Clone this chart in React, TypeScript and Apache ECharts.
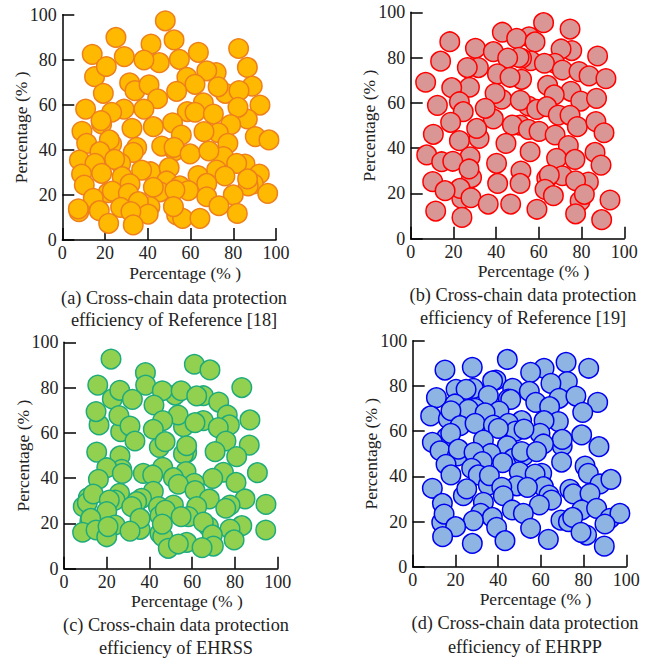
import React, { useEffect, useRef } from "react";
import * as echarts from "echarts";

const pointsA = [
[48.2,97.3],[25.1,89.9],[52.3,88.8],[41.5,87],[14,82.4],[29,81.4],[63.7,83.3],[82.5,85],[45.4,78.7],[38.2,79.9],[54.8,80.2],[15.1,72.5],[20.6,77],[86.6,76.6],[58.3,72.2],[72,74.3],[67.6,75.1],[31.5,69.8],[34,66.3],[40.6,68.9],[62.1,69.1],[76.3,65.1],[72.9,68],[88.9,68.3],[82.7,66.3],[44.6,62.7],[53.5,66],[19.2,65.1],[92.5,59.9],[66,60.9],[58.5,57],[62.1,56.7],[10.9,58.1],[28.9,58.1],[23.1,56.7],[38.2,58.1],[70.7,55.9],[86.6,53.7],[82.2,58.9],[18.4,51.5],[18.1,53],[51.6,52],[78.8,51.2],[42.6,50.3],[32.6,49.6],[9.2,48.2],[73,47.6],[66.3,48.1],[55.7,46.6],[90.3,45.9],[96.7,44.4],[11.4,42.9],[23.1,42.6],[22,44.4],[77.5,42.9],[46.5,41.7],[34.8,41.1],[52.7,39.6],[52.3,41.1],[33.2,38.9],[59.8,38.2],[75.4,37],[68.6,39.5],[17.6,39.2],[27.3,34],[8,35.5],[15.3,34],[24.5,35.8],[41.3,30.3],[37.1,31],[50,32.1],[85.5,33.7],[81.6,34],[72.2,31],[18.4,29.6],[9,29.3],[28,28.1],[63.5,28.6],[76.1,28.4],[92.2,29.3],[48.8,26.2],[31.7,24.9],[67.6,25.1],[89.4,24.9],[87,24],[86.7,27.1],[10.3,24.4],[55,24],[45.7,21.4],[42.6,23.4],[21.5,21],[23.4,21.7],[59,21.9],[52.7,22.2],[96.1,20.7],[67.6,19.2],[80,20],[30.9,20.7],[14.5,18.5],[41,14.8],[35.6,17],[73.3,15.2],[17.3,13],[27.3,14.5],[53.5,11.1],[56.3,9.6],[52,14.8],[40.2,11.5],[32.1,12.6],[64.4,9.6],[81.9,11.8],[7.8,12.6],[7.5,13.8],[33.2,6.7],[21.7,7.4],
];

const pointsB = [
[62.2,95.4],[74.6,92.6],[42.9,91.2],[55.4,89.2],[49.6,88.5],[58.2,86.9],[18.3,87],[30.3,84.1],[38.7,82.6],[75.4,83.1],[70.4,83.8],[87.5,80.7],[14,78.4],[56.2,78.6],[51.9,79.7],[50.7,80.1],[45.4,79.8],[67.5,77.5],[62.6,77.5],[71,74.5],[31.7,75.6],[26.5,75.6],[78.8,73.8],[83.5,71.9],[91.4,70.7],[40.6,72.8],[51.9,70.4],[46.5,71.3],[7,69.1],[64.1,67.7],[27.5,66.9],[19.2,66.7],[75,65.1],[67.2,63.5],[42.6,61.6],[39.5,64.2],[55.1,58.6],[51.3,61.1],[79.6,60.8],[87,62],[22.8,60.5],[12.5,58.9],[59,57.1],[63.7,58.3],[38.7,52.9],[34.9,57.6],[24.6,56.1],[69.1,54.6],[74.6,54.5],[18.7,51.4],[51.2,50.2],[47.6,50.2],[78,49.5],[86.7,51.7],[55.1,48.3],[60.1,47.4],[90.5,46.8],[10.6,46.1],[32,44.3],[30.9,48.7],[67.6,45.8],[22.8,43.3],[44.6,42.1],[73.8,41.1],[27.8,36.2],[55.9,38.4],[7.5,37],[86.3,38.1],[14.5,34],[19.7,34.2],[68.3,35.5],[76.9,35],[40.2,33.3],[89.1,32.5],[28.5,27],[27.3,30.8],[51.6,29.9],[71,27.8],[63.7,26.7],[64.9,28.1],[83.2,25],[10.3,25.2],[62.9,21.8],[40.7,24.4],[51.2,24.4],[23.9,17.8],[23.1,22.2],[16.1,21.2],[28.2,18.1],[66.8,19],[79.3,16.6],[77.2,25.6],[81.3,19.6],[93.3,17.1],[36.3,15.3],[46.8,15.3],[59.1,13],[11.7,12.2],[77.2,11],[24,9.4],[89.4,8.4],
];

const pointsC = [
[22,92.6],[61,90.3],[68.3,87.8],[38.1,86.6],[15.8,81.1],[38.2,81.1],[83.2,80],[22.6,75],[26.1,78.8],[32,74.8],[52,76.7],[46,78.6],[54.8,78.6],[65.2,76.4],[62.1,76.3],[72.4,73.6],[42.1,72.3],[16.4,63.5],[15,69.4],[76.4,67.9],[77.4,63.5],[55.9,62.7],[53.4,67.9],[26.5,60.5],[25.7,67.6],[87,65.7],[46.2,65.4],[65.2,65.4],[61.3,64.5],[30.9,63],[72.2,62.3],[41.8,61.6],[33.2,56.4],[75.8,56.4],[44.6,53.6],[47.3,56.1],[86.7,54.6],[70.7,51.7],[57.4,51.3],[55.9,50.7],[57.4,54.3],[15.3,51.5],[26.2,49.8],[80.8,49.5],[27,43.9],[20,44.6],[46.2,44.8],[90.5,42.4],[37.1,42.1],[41.5,41.4],[27.3,42.1],[57.1,42.9],[74.6,42.6],[16.1,39.5],[51.2,40.2],[69.6,39.9],[61,37.7],[80.5,38.1],[53.5,37.3],[41.8,34.2],[61.3,34.5],[26,33.3],[23.9,30.3],[9,27.4],[11.4,31.4],[10.9,29.2],[13.7,33],[36.3,31.1],[34,29.6],[21.2,30.3],[68,30.8],[84.7,30.8],[44.2,27.4],[31.7,27.4],[51.2,28.1],[62.1,27.4],[77.7,28.1],[75.7,26.7],[94.5,28.4],[20,25.2],[44.9,23.4],[47.4,25.9],[58.2,23],[54.8,23],[35.6,17.4],[35.6,22.2],[12.1,21],[12.5,22.2],[23.9,19.3],[67.6,18.6],[65.2,20.6],[83.2,19],[77.7,17.5],[8.7,16.1],[15,17.1],[20,14.1],[20.6,18.6],[30.9,16.6],[44.9,15.6],[46.2,14.1],[46,19.7],[69.4,14.9],[94.4,17.1],[79.6,12.7],[48.8,9],[57.4,11.6],[53.5,10.9],[69.9,10],[64.6,9.3],
];

const pointsD = [
[44.3,91.7],[71.8,90.4],[27.9,88.2],[15.1,87],[61.5,87.8],[82.4,87.8],[55.2,86],[39,82.6],[37.4,82.2],[72.4,81.9],[64.7,81.1],[28.4,78.9],[20.3,78.5],[25,78.5],[46.8,78.9],[54.6,77.6],[35.4,75.7],[11.1,74.8],[68.5,74.5],[76.4,75.5],[44.8,74.2],[45.9,74],[86.6,72.7],[57.6,72.7],[19.8,72],[29.2,70.1],[26.1,69.6],[40.4,68.9],[33.9,68.1],[64.1,70.8],[79.6,68.3],[8.4,66.7],[16.7,65.3],[17.9,69],[22.2,62.4],[68.2,64.2],[29.2,63.4],[51,64.6],[61.5,64.6],[37.8,62.7],[44.8,63.4],[48.2,60],[59.6,59],[40.1,61.2],[52.1,60.9],[79.1,58.3],[15.9,57.2],[17.8,59],[33.1,56],[9.2,55],[70,53.4],[70,56.3],[61.2,54.3],[87.2,53.1],[44.3,53.5],[12.8,51.3],[20.9,49],[21.4,52],[47.1,47.9],[51.8,49],[51,50.9],[58,50.9],[36.5,50.1],[28.7,50.6],[42.1,46],[32.6,46.5],[69.7,46.3],[15.6,45.3],[27.6,43.5],[80.7,44.5],[82.2,41.3],[17.9,40.6],[49.9,42],[60.4,41.3],[57.3,41],[30.7,40.6],[35.4,36.1],[35.9,40.3],[61.2,35.4],[48.7,35.8],[41.7,35.1],[53.7,35.1],[23.7,31.4],[25.3,34.4],[9.2,34.7],[87.7,36.6],[92.8,38.6],[73.6,34.2],[75.2,32.2],[83,32.4],[42.4,31.4],[63.8,31.7],[65,29.5],[33.1,28.5],[59.3,27.3],[13.9,28],[79.1,25.1],[86.1,25.8],[46.6,25.1],[51.8,23.6],[31.8,23.6],[13.6,19.6],[14.7,23.3],[92.4,21.4],[97,23.6],[37.3,21.8],[28.4,20.4],[69.4,20.6],[72.9,19.9],[74.9,21.8],[90,18.9],[20.1,17.7],[39.3,17.4],[55.2,17],[81.4,14],[78.8,15.2],[14,13.3],[43.2,11.5],[63.5,12.1],[27.9,10.3],[89.7,9.1],
];

const tickValues = [0, 20, 40, 60, 80, 100];
const axisTitle = "Percentage (% )";
const FONT = "'Liberation Serif', 'Times New Roman', serif";

const panels = [
  { data: pointsA, fill: "#FFB900", stroke: "#EE7F1B", left: 62.3, top: 14.7, right: 276, bottom: 240, nameShift: 32, cap: ["(a) Cross-chain data protection", "efficiency of Reference [18]"], capX: 174, capY: [298, 320] },
  { data: pointsB, fill: "#D99694", stroke: "#FF0000", left: 410.7, top: 12.3, right: 624.3, bottom: 238.7, nameShift: 32, cap: ["(b) Cross-chain data protection", "efficiency of Reference [19]"], capX: 523, capY: [295, 318] },
  { data: pointsC, fill: "#92D050", stroke: "#1EAB7C", left: 64, top: 342.3, right: 277.7, bottom: 568.7, nameShift: 32, cap: ["(c) Cross-chain data protection", "efficiency of EHRSS"], capX: 176, capY: [625, 648] },
  { data: pointsD, fill: "#8DB4E2", stroke: "#0000F0", left: 412.7, top: 340.7, right: 626.3, bottom: 566.7, nameShift: 32, cap: ["(d) Cross-chain data protection", "efficiency of EHRPP"], capX: 525, capY: [623, 647] },
];

export default function App() {
  const ref = useRef<HTMLDivElement>(null);
  useEffect(() => {
    const chart = echarts.init(ref.current!, null, { renderer: "svg" });
    const axisBase = {
      type: "value",
      min: 0,
      max: 100,
      interval: 20,
      splitLine: { show: false },
      axisLine: { show: true, onZero: false, lineStyle: { color: "#000", width: 1.5 } },
      axisTick: { show: true, inside: true, length: 12, lineStyle: { color: "#000", width: 1.5 } },
      axisLabel: {
        color: "#222",
        fontFamily: FONT,
        fontSize: 18,
        lineHeight: 15,
        margin: 5.5,
        hideOverlap: false,
        showMinLabel: true,
        showMaxLabel: true,
        customValues: tickValues,
      },
      nameLocation: "middle",
      nameMoveOverlap: false,
      nameTextStyle: { color: "#222", fontFamily: FONT, fontSize: 17.5, lineHeight: 15 },
    };
    chart.setOption({
      animation: false,
      backgroundColor: "#fff",
      grid: panels.map((p) => ({
        left: p.left,
        top: p.top,
        width: p.right - p.left,
        height: p.bottom - p.top,
        containLabel: false,
      })),
      xAxis: panels.map((p, i) => ({
        ...axisBase,
        gridIndex: i,
        name: axisTitle,
        nameGap: 25,
        nameTextStyle: { ...axisBase.nameTextStyle, padding: [0, 0, 0, p.nameShift] },
      })),
      yAxis: panels.map((p, i) => ({
        ...axisBase,
        gridIndex: i,
        name: axisTitle,
        nameGap: 34,
      })),
      series: panels.map((p, i) => ({
        type: "scatter",
        xAxisIndex: i,
        yAxisIndex: i,
        data: p.data,
        symbol: "circle",
        symbolSize: 19.5,
        clip: false,
        itemStyle: { color: p.fill, borderColor: p.stroke, borderWidth: 1.5, opacity: 1 },
        emphasis: { disabled: true },
      })),
      graphic: panels.flatMap((p) =>
        p.cap.map((text, j) => ({
          type: "text",
          x: p.capX,
          y: p.capY[j],
          style: {
            text,
            fill: "#222",
            font: `18.3px ${FONT}`,
            textAlign: "center",
            textVerticalAlign: "middle",
          },
        }))
      ),
    });
    return () => chart.dispose();
  }, []);
  return (
    <div
      ref={ref}
      style={{ position: "absolute", left: 0, top: 0, width: 651, height: 659 }}
    />
  );
}
